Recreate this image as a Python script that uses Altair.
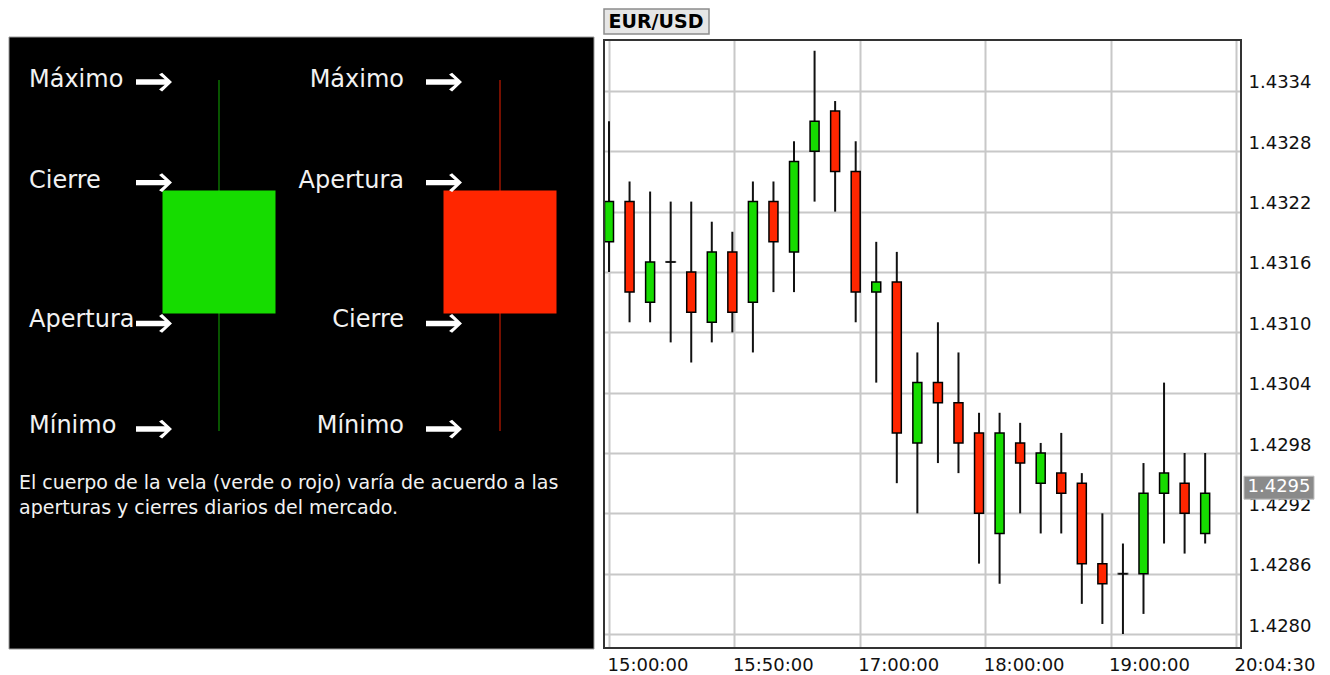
import altair as alt
import numpy as np
import pandas as pd

# ---------------- right panel data (EUR/USD candles) ----------------
OPEN = [1.43190, 1.43230, 1.43130, 1.43170, 1.43160, 1.43110, 1.43180, 1.43130, 1.43230, 1.43180,
        1.43280, 1.43320, 1.43260, 1.43140, 1.43150, 1.42990, 1.43050, 1.43030, 1.43000, 1.42900,
        1.42990, 1.42950, 1.42960, 1.42950, 1.42870, 1.42860, 1.42860, 1.42940, 1.42950, 1.42900]
HIGH = [1.43310, 1.43250, 1.43240, 1.43230, 1.43230, 1.43210, 1.43200, 1.43250, 1.43250, 1.43290,
        1.43380, 1.43330, 1.43290, 1.43190, 1.43180, 1.43080, 1.43110, 1.43080, 1.43020, 1.43020,
        1.43010, 1.42990, 1.43000, 1.42960, 1.42920, 1.42890, 1.42970, 1.43050, 1.42980, 1.42980]
LOW = [1.43160, 1.43110, 1.43110, 1.43090, 1.43070, 1.43090, 1.43100, 1.43080, 1.43140, 1.43140,
       1.43230, 1.43220, 1.43110, 1.43050, 1.42950, 1.42920, 1.42970, 1.42960, 1.42870, 1.42850,
       1.42920, 1.42900, 1.42900, 1.42830, 1.42810, 1.42800, 1.42820, 1.42890, 1.42880, 1.42890]
CLOSE = [1.43230, 1.43140, 1.43170, 1.43170, 1.43120, 1.43180, 1.43120, 1.43230, 1.43190, 1.43270,
         1.43310, 1.43260, 1.43140, 1.43150, 1.43000, 1.43050, 1.43030, 1.42990, 1.42920, 1.43000,
         1.42970, 1.42980, 1.42940, 1.42870, 1.42850, 1.42860, 1.42940, 1.42960, 1.42920, 1.42940]

X_DOMAIN = [0, 30.5]
X_TICK_POS = [0, 6.1, 12.2, 18.3, 24.4, 30.5]
X_TICK_LABELS = ["15:00:00", "15:50:00", "17:00:00", "18:00:00", "19:00:00", "20:04:30"]
Y_DOMAIN = [1.427861, 1.433907]
Y_TICKS = [1.4280, 1.4286, 1.4292, 1.4298, 1.4304, 1.4310, 1.4316, 1.4322, 1.4328, 1.4334]
SYMBOL = ["EUR/USD"]
LAST_PRICE = [1.4295]

# ---------------- left panel data (explanatory diagram) ----------------
DIAG_CANDLES = ["verde", "rojo"]
DIAG_OPEN = [3.35, 6.85]
DIAG_CLOSE = [6.85, 3.35]
DIAG_HIGH = [10.0, 10.0]
DIAG_LOW = [0.0, 0.0]
LABELS_VERDE = ["Máximo", "Cierre", "Apertura", "Mínimo"]
LABELS_ROJO = ["Máximo", "Apertura", "Cierre", "Mínimo"]
LEVELS = ["max", "top", "bottom", "min"]
PARAGRAPH = ["El cuerpo de la vela (verde o rojo) varía de acuerdo a las",
             "aperturas y cierres diarios del mercado."]

# ---------------- styling constants ----------------
W_L, W_R, H = 585, 637, 608
GREEN, RED = "#1ef01e", "#ff2a00"
FONT = "DejaVu Sans"
TEXT_DY = {"max": 0, "top": -10, "bottom": 7, "min": -5}
ARROW_DY = {"max": 2, "top": -8, "bottom": 10, "min": -2}
ARROW = ("M-1,-0.15 L0.6,-0.15 L0.28,-0.42 L0.45,-0.52 L1,0 L0.45,0.52 "
         "L0.28,0.42 L0.6,0.15 L-1,0.15 Z")
one = pd.DataFrame({"k": [0]})

# ================= left panel =================
diag = pd.DataFrame({"vela": DIAG_CANDLES, "open": DIAG_OPEN, "close": DIAG_CLOSE,
                     "high": DIAG_HIGH, "low": DIAG_LOW})
ysc_d = alt.Scale(domain=[-6.18, 11.14], nice=False, zero=False)
xsc_d = alt.Scale(type="point", domain=DIAG_CANDLES, range=[210, 491], padding=0)

bg = alt.Chart(one).mark_rect(fill="#000000", stroke="#9a9a9a", strokeWidth=1).encode(
    x=alt.value(0), x2=alt.value(W_L), y=alt.value(-3), y2=alt.value(H + 1))

d_wick = alt.Chart(diag).mark_rule(strokeWidth=1.2).encode(
    x=alt.X("vela:N", scale=xsc_d, axis=None),
    y=alt.Y("low:Q", scale=ysc_d, axis=None), y2="high:Q",
    stroke=alt.Stroke("vela:N", scale=alt.Scale(domain=DIAG_CANDLES, range=["#0e8c00", "#c41a00"]),
                      legend=None))
d_body = alt.Chart(diag).mark_bar(size=113).encode(
    x=alt.X("vela:N", scale=xsc_d, axis=None),
    y=alt.Y("open:Q", scale=ysc_d, axis=None), y2="close:Q",
    fill=alt.Fill("vela:N", scale=alt.Scale(domain=DIAG_CANDLES, range=["#16dc00", "#ff2600"]),
                  legend=None))

label_rows = []
for k, vela in enumerate(DIAG_CANDLES):
    o, c = DIAG_OPEN[k], DIAG_CLOSE[k]
    vals = [DIAG_HIGH[k], max(o, c), min(o, c), DIAG_LOW[k]]
    texts = LABELS_VERDE if vela == "verde" else LABELS_ROJO
    for lev, v, t in zip(LEVELS, vals, texts):
        label_rows.append({"vela": vela, "nivel": lev, "valor": v, "texto": t})
labels = pd.DataFrame(label_rows)

layers_left = [bg, d_wick, d_body]
for vela, tx, align, ax in [("verde", 20, "left", 145), ("rojo", 395, "right", 435)]:
    for lev in LEVELS:
        sub = labels[(labels.vela == vela) & (labels.nivel == lev)]
        layers_left.append(
            alt.Chart(sub).mark_text(align=align, baseline="middle", font=FONT, fontSize=24,
                                     color="#f2f2f2", dy=TEXT_DY[lev]).encode(
                x=alt.value(tx), y=alt.Y("valor:Q", scale=ysc_d, axis=None), text="texto:N"))
        layers_left.append(
            alt.Chart(sub).mark_point(shape=ARROW, size=1296, filled=True, color="#ffffff",
                                      opacity=1, strokeWidth=0, yOffset=ARROW_DY[lev]).encode(
                x=alt.value(ax), y=alt.Y("valor:Q", scale=ysc_d, axis=None)))

para = alt.Chart(pd.DataFrame({"t": ["\n".join(PARAGRAPH)]})).mark_text(
    align="left", baseline="alphabetic", lineBreak="\n", lineHeight=25, font=FONT,
    fontSize=19, color="#f2f2f2").encode(x=alt.value(10), y=alt.value(448.7), text="t:N")
layers_left.append(para)

left = alt.layer(*layers_left).properties(width=W_L, height=H)

# ================= right panel =================
df = pd.DataFrame({"i": np.arange(len(OPEN)), "open": OPEN, "high": HIGH, "low": LOW, "close": CLOSE})
df["dir"] = np.where(df.close > df.open, "sube", np.where(df.close < df.open, "baja", "igual"))

xs = alt.Scale(domain=X_DOMAIN, nice=False, zero=False)
ys = alt.Scale(domain=Y_DOMAIN, nice=False, zero=False)
label_expr = "[" + ",".join(f"'{s}'" for s in X_TICK_LABELS) + "][round(datum.value / 6.1)]"

x_axis = alt.Axis(values=X_TICK_POS, labelExpr=label_expr, orient="bottom", grid=True,
                  gridColor="#c8c8c8", gridWidth=2, ticks=False, domain=False,
                  labelAlign="left", labelBaseline="top", labelPadding=8, labelOffset=-2,
                  labelFont=FONT, labelFontSize=18, labelColor="#111111", title=None,
                  labelFlush=False, labelOverlap=False)
y_axis = alt.Axis(values=Y_TICKS, format=".4f", orient="right", grid=True, gridColor="#c8c8c8",
                  gridWidth=2, ticks=False, domain=False, labelPadding=7, labelOffset=-8,
                  labelFont=FONT, labelFontSize=18, labelColor="#111111", title=None,
                  labelOverlap=False, labelFlush=False)

wick = alt.Chart(df).mark_rule(color="#111111", strokeWidth=2, clip=True).encode(
    x=alt.X("i:Q", scale=xs, axis=x_axis),
    y=alt.Y("low:Q", scale=ys, axis=y_axis), y2="high:Q")
body = alt.Chart(df).mark_bar(size=9, stroke="#000000", strokeWidth=1.5, clip=True).encode(
    x=alt.X("i:Q", scale=xs), y=alt.Y("open:Q", scale=ys), y2="close:Q",
    fill=alt.Fill("dir:N", scale=alt.Scale(domain=["sube", "baja", "igual"],
                                           range=[GREEN, RED, "#000000"]), legend=None))
doji = alt.Chart(df[df.dir == "igual"]).mark_tick(orient="horizontal", size=11, thickness=2,
                                                  color="#111111", clip=True).encode(
    x=alt.X("i:Q", scale=xs), y=alt.Y("close:Q", scale=ys))

frame = alt.Chart(one).mark_rect(fill="transparent", stroke="#333333", strokeWidth=2).encode(
    x=alt.value(0), x2=alt.value(W_R), y=alt.value(0), y2=alt.value(H))

price = pd.DataFrame({"p": LAST_PRICE, "t": [f"{v:.4f}" for v in LAST_PRICE]})
price_box = alt.Chart(price).mark_rect(fill="#8a8a8a", stroke="#c0c0c0", strokeWidth=1,
                                       yOffset=-7, y2Offset=16).encode(
    x=alt.value(W_R + 3), x2=alt.value(W_R + 73), y=alt.Y("p:Q", scale=ys), y2="p:Q")
price_txt = alt.Chart(price).mark_text(color="#ffffff", font=FONT, fontSize=18, dy=4,
                                       align="center", baseline="middle").encode(
    x=alt.value(W_R + 38), y=alt.Y("p:Q", scale=ys), text="t:N")

sym = pd.DataFrame({"s": SYMBOL})
title_box = alt.Chart(sym).mark_rect(fill="#e6e6e6", stroke="#8c8c8c", strokeWidth=1.5).encode(
    x=alt.value(0), x2=alt.value(105), y=alt.value(-31), y2=alt.value(-6))
title_txt = alt.Chart(sym).mark_text(font=FONT, fontWeight="bold", fontSize=19, color="#000000",
                                     align="center", baseline="middle").encode(
    x=alt.value(52), y=alt.value(-18), text="s:N")

right = alt.layer(wick, body, doji, frame, price_box, price_txt, title_box, title_txt).properties(
    width=W_R, height=H)

chart = alt.hconcat(left, right, spacing=10, bounds="flush").properties(
    padding=0).configure_view(strokeWidth=0)

chart.save("out.html", embed_options={"renderer": "svg", "actions": False})
